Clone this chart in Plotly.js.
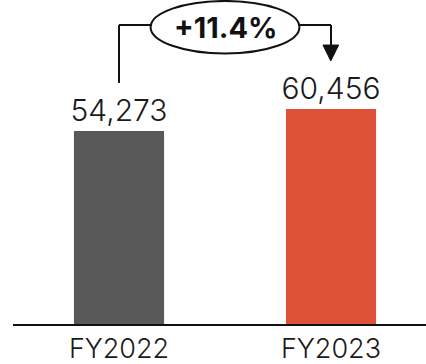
<!DOCTYPE html>
<html>
<head>
<meta charset="utf-8">
<script src="https://cdn.plot.ly/plotly-3.0.1.min.js"></script>
<style>html,body{margin:0;padding:0;background:#fff;}#chart{width:426px;height:364px;}</style>
</head>
<body>
<div id="chart"></div>
<script>
const categories = ["FY2022", "FY2023"];
const revenue = [54273, 60456];
const valueLabels = ["54,273", "60,456"];
const growthLabel = "+11.4%";
const barColors = ["#595959", "#DD5236"];

const FONT = "Inter, 'DejaVu Sans', sans-serif";

const trace = {
  type: "bar",
  x: categories,
  y: revenue,
  text: valueLabels,
  textposition: "outside",
  constraintext: "none",
  cliponaxis: false,
  textfont: {family: FONT, size: 30, color: "#1a1a1a", weight: 300},
  marker: {color: barColors},
  width: 0.425,
  hoverinfo: "none"
};

const lineStyle = {color: "#111", width: 2};
const shapes = [
  {type: "line", xref: "x", yref: "paper", x0: 0, x1: 0, y0: 0.744, y1: 0.923, line: lineStyle},
  {type: "line", xref: "x", yref: "paper", x0: 0, x1: 0.156, y0: 0.923, y1: 0.923, line: lineStyle},
  {type: "circle", xref: "x", yref: "paper", x0: 0.149, x1: 0.851, y0: 0.835, y1: 0.997, line: lineStyle, fillcolor: "rgba(0,0,0,0)"},
  {type: "line", xref: "x", yref: "paper", x0: 0.844, x1: 1, y0: 0.923, y1: 0.923, line: lineStyle},
  {type: "line", xref: "x", yref: "paper", x0: 1, x1: 1, y0: 0.923, y1: 0.858, line: lineStyle},
  {type: "path", xref: "x", yref: "paper", path: "M 0.962 0.861 L 1.036 0.861 L 0.999 0.812 Z", fillcolor: "#111", line: {color: "#111", width: 1}}
];

const layout = {
  width: 426,
  height: 364,
  margin: {l: 13, r: 0, t: 0, b: 40},
  paper_bgcolor: "#fff",
  plot_bgcolor: "#fff",
  showlegend: false,
  xaxis: {
    type: "category",
    range: [-0.5, 1.448],
    showline: true,
    linecolor: "#111",
    linewidth: 1.5,
    showgrid: false,
    zeroline: false,
    ticks: "",
    ticklabelstandoff: 0,
    tickfont: {family: FONT, size: 27, color: "#1a1a1a", weight: 300},
    fixedrange: true
  },
  yaxis: {
    range: [0, 91115],
    visible: false,
    showgrid: false,
    zeroline: false,
    fixedrange: true
  },
  shapes: shapes,
  annotations: [
    {xref: "x", yref: "paper", x: 0.5, y: 0.915, text: "<b>" + growthLabel + "</b>", showarrow: false,
     font: {family: FONT, size: 29, color: "#111", weight: 800}, xanchor: "center", yanchor: "middle"}
  ]
};

Plotly.newPlot("chart", [trace], layout, {displayModeBar: false, staticPlot: true});
</script>
</body>
</html>
